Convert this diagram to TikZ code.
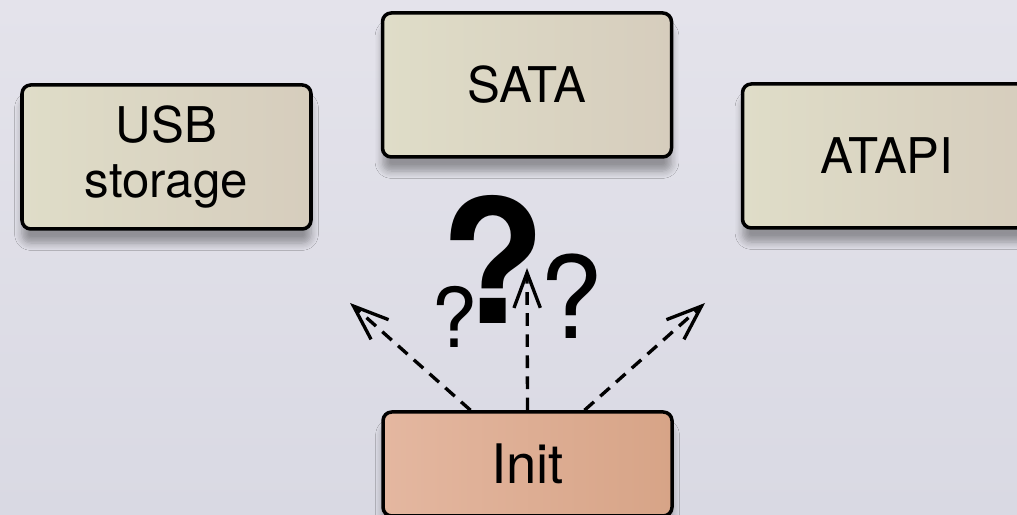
\documentclass[tikz,border=0pt]{standalone}
\usepackage{fontspec}
\setmainfont{TeX Gyre Heros}
\usepackage{xcolor}
\usepackage{tikz}
\usetikzlibrary{arrows.meta,shadows.blur}
\definecolor{bgtop}{HTML}{E4E3EB}
\definecolor{bgbot}{HTML}{D9D9E3}
\definecolor{devl}{HTML}{DFDDC8}
\definecolor{devr}{HTML}{D6CDBD}
\definecolor{initl}{HTML}{E4B7A0}
\definecolor{initr}{HTML}{D7A487}
\tikzset{
  dev/.style={draw=black, line width=1pt, rounded corners=2.5pt, minimum width=2.89cm, minimum height=1.44cm,
    left color=devl, right color=devr, align=center, font=\fontsize{14}{15.4}\selectfont,
    blur shadow={shadow xshift=0pt, shadow yshift=-4pt, shadow opacity=35, shadow blur steps=6}},
  start/.style={dev, minimum height=1.04cm, left color=initl, right color=initr, font=\fontsize{15.5}{18}\selectfont},
  flow/.style={draw=black, line width=0.95pt, dash pattern=on 3.6pt off 2.4pt,
    -{Straight Barb[length=10pt, width=7.5pt]}},
  quest/.style={inner sep=0pt, text=black},
}
\begin{document}
\begin{tikzpicture}
  \useasboundingbox (0,0) rectangle (10.17,5.15);
  \clip (0,0) rectangle (10.17,5.15);
  \shade[top color=bgtop, bottom color=bgbot] (0,0) rectangle (10.17,5.15);

  \node[dev] (usb)   at (1.665,3.58) {USB\\storage};
  \node[dev] (sata)  at (5.27,4.30) {SATA};
  \node[dev] (atapi) at (8.87,3.59) {ATAPI};
  \node[start] (init) at (5.275,0.51) {Init};

  \coordinate (tl) at (3.50,2.12);
  \coordinate (tm) at (5.27,2.47);
  \coordinate (tr) at (7.05,2.12);

  \draw[flow] ([xshift=-0.57cm]init.north) -- (tl);
  \draw[flow] (init.north) -- (tm);
  \draw[flow] ([xshift=0.57cm]init.north) -- (tr);

  \node[quest, font=\fontsize{49}{49}\selectfont\bfseries] (qbig) at (4.93,2.56) {?};
  \node[quest, font=\fontsize{23.5}{24}\selectfont] (qleft) at (4.545,1.98) {?};
  \node[quest, font=\fontsize{32.5}{33}\selectfont] (qright) at (5.715,2.19) {?};
\end{tikzpicture}
\end{document}
